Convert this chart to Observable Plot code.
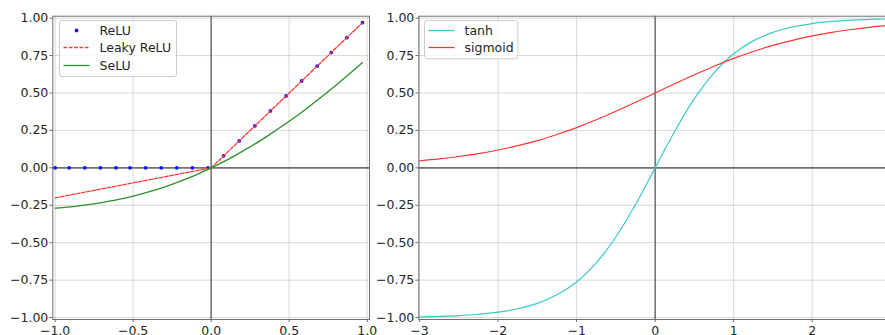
<!DOCTYPE html>
<html>
<head>
<meta charset="utf-8">
<script src="https://cdn.jsdelivr.net/npm/d3@7"></script>
<script src="https://cdn.jsdelivr.net/npm/@observablehq/plot@0.6"></script>
<style>
  html, body { margin: 0; padding: 0; overflow: hidden; background: white; }
  #wrap { position: relative; width: 885px; height: 335px; overflow: hidden; font-family: "DejaVu Sans", sans-serif; }
  #left { position: absolute; left: 0; top: 0; width: 380px; }
  #right { position: absolute; left: 370px; top: 0; width: 531px; }
  #legend { position: absolute; left: 0; top: 0; pointer-events: none; }
</style>
</head>
<body>
<div id="wrap">
  <div id="left"></div>
  <div id="right"></div>
  <svg id="legend" width="885" height="335"></svg>
</div>
<script>
// ---------- data ----------
const leftX = [-1, -0.9, -0.8, -0.7, -0.6, -0.5, -0.4, -0.3, -0.2, -0.1, 0, 0.1, 0.2, 0.3, 0.4, 0.5, 0.6, 0.7, 0.8, 0.9, 0.97];
const leakyY = [-0.2, -0.18, -0.16, -0.14, -0.12, -0.1, -0.08, -0.06, -0.04, -0.02, 0, 0.1, 0.2, 0.3, 0.4, 0.5, 0.6, 0.7, 0.8, 0.9, 0.97];
const seluY = [-0.269, -0.260, -0.248, -0.232, -0.213, -0.189, -0.161, -0.128, -0.090, -0.048, 0, 0.052, 0.110, 0.172, 0.240, 0.311, 0.387, 0.468, 0.552, 0.640, 0.703];
const reluX = [-1, -0.91, -0.81, -0.71, -0.61, -0.52, -0.42, -0.32, -0.22, -0.12, -0.02, 0.08, 0.18, 0.28, 0.38, 0.48, 0.58, 0.68, 0.77, 0.87, 0.97];
const reluY = [0, 0, 0, 0, 0, 0, 0, 0, 0, 0, 0, 0.08, 0.18, 0.28, 0.38, 0.48, 0.58, 0.68, 0.77, 0.87, 0.97];

const rightX = [-3, -2.75, -2.5, -2.25, -2, -1.75, -1.5, -1.25, -1, -0.75, -0.5, -0.25, 0, 0.25, 0.5, 0.75, 1, 1.25, 1.5, 1.75, 2, 2.25, 2.5, 2.75, 3];
const tanhY = [-0.995, -0.992, -0.987, -0.978, -0.964, -0.941, -0.905, -0.848, -0.762, -0.635, -0.462, -0.245, 0, 0.245, 0.462, 0.635, 0.762, 0.848, 0.905, 0.941, 0.964, 0.978, 0.987, 0.992, 0.995];
const sigmoidY = [0.047, 0.060, 0.076, 0.095, 0.119, 0.148, 0.182, 0.223, 0.269, 0.321, 0.378, 0.438, 0.5, 0.562, 0.622, 0.679, 0.731, 0.777, 0.818, 0.852, 0.881, 0.905, 0.924, 0.940, 0.953];

const leftSeries = ["ReLU", "Leaky ReLU", "SeLU"];
const rightSeries = ["tanh", "sigmoid"];

const leftXTicks = [-1, -0.5, 0, 0.5, 1];
const leftXTickLabels = ["−1.0", "−0.5", "0.0", "0.5", "1.0"];
const rightXTicks = [-3, -2, -1, 0, 1, 2];
const rightXTickLabels = ["−3", "−2", "−1", "0", "1", "2"];
const yTicks = [-1, -0.75, -0.5, -0.25, 0, 0.25, 0.5, 0.75, 1];
const yTickLabels = ["−1.00", "−0.75", "−0.50", "−0.25", "0.00", "0.25", "0.50", "0.75", "1.00"];

// ---------- styles ----------
const C = {
  relu: "#1414ff", leaky: "#ff3a3a", selu: "#2a922a",
  tanh: "#3cc8c8", sigmoid: "#ff3535",
  grid: "#b0b0b0", zero: "#555555", frame: "#707070", text: "#262626"
};
const FONT = "DejaVu Sans, sans-serif";
const plotStyle = { background: "transparent", maxWidth: "none", fontFamily: FONT, fontSize: "12.5px", color: C.text, overflow: "visible" };
const yDomain = [-1.013, 1.013];

const leftData = leftX.map((x, i) => ({ x, leaky: leakyY[i], selu: seluY[i] }));
const reluData = reluX.map((x, i) => ({ x, y: reluY[i] }));
const rightData = rightX.map((x, i) => ({ x, tanh: tanhY[i], sigmoid: sigmoidY[i] }));

const lab = (ticks, labels) => d => labels[ticks.indexOf(d)];

const left = Plot.plot({
  width: 380, height: 344,
  marginLeft: 52.3, marginRight: 11, marginTop: 15.7, marginBottom: 25,
  style: plotStyle,
  x: { domain: [-1.015, 1.015] },
  y: { domain: yDomain },
  marks: [
    Plot.gridX(leftXTicks, { stroke: C.grid, strokeOpacity: 0.55, strokeWidth: 0.9 }),
    Plot.gridY(yTicks, { stroke: C.grid, strokeOpacity: 0.55, strokeWidth: 0.9 }),
    Plot.ruleY([0], { stroke: C.zero, strokeWidth: 1.8, strokeOpacity: 0.8 }),
    Plot.ruleX([0], { stroke: C.zero, strokeWidth: 1.2 }),
    Plot.dot(reluData, { x: "x", y: "y", r: 1.9, fill: C.relu, stroke: "none" }),
    Plot.line(leftData, { x: "x", y: "leaky", stroke: C.leaky, strokeWidth: 1.3, strokeDasharray: "3.7,1.6" }),
    Plot.line(leftData, { x: "x", y: "selu", stroke: C.selu, strokeWidth: 1.3, curve: "catmull-rom" }),
    Plot.frame({ stroke: C.frame, strokeWidth: 1 }),
    Plot.axisX(leftXTicks, { tickFormat: lab(leftXTicks, leftXTickLabels), tickSize: 3, tickPadding: 3.5, stroke: C.frame, fill: C.text }),
    Plot.axisY(yTicks, { tickFormat: lab(yTicks, yTickLabels), tickSize: 3, tickPadding: 1.5, stroke: C.frame, fill: C.text })
  ]
});
document.getElementById("left").appendChild(left);

const right = Plot.plot({
  width: 531, height: 344,
  marginLeft: 48.3, marginRight: 10, marginTop: 15.7, marginBottom: 25,
  style: plotStyle,
  x: { domain: [-3.01, 3.01] },
  y: { domain: yDomain },
  marks: [
    Plot.gridX(rightXTicks, { stroke: C.grid, strokeOpacity: 0.55, strokeWidth: 0.9 }),
    Plot.gridY(yTicks, { stroke: C.grid, strokeOpacity: 0.55, strokeWidth: 0.9 }),
    Plot.ruleY([0], { stroke: C.zero, strokeWidth: 1.8, strokeOpacity: 0.8 }),
    Plot.ruleX([0], { stroke: C.zero, strokeWidth: 1.2 }),
    Plot.line(rightData, { x: "x", y: "tanh", stroke: C.tanh, strokeWidth: 1.2, curve: "catmull-rom" }),
    Plot.line(rightData, { x: "x", y: "sigmoid", stroke: C.sigmoid, strokeWidth: 1.2, curve: "catmull-rom" }),
    Plot.frame({ stroke: C.frame, strokeWidth: 1 }),
    Plot.axisX(rightXTicks, { tickFormat: lab(rightXTicks, rightXTickLabels), tickSize: 3, tickPadding: 3.5, stroke: C.frame, fill: C.text }),
    Plot.axisY(yTicks, { tickFormat: lab(yTicks, yTickLabels), tickSize: 3, tickPadding: 1.5, stroke: C.frame, fill: C.text })
  ]
});
document.getElementById("right").appendChild(right);

// ---------- legends ----------
const lg = d3.select("#legend");
function legend(box, items) {
  const g = lg.append("g");
  g.append("rect").attr("x", box.x).attr("y", box.y).attr("width", box.w).attr("height", box.h)
    .attr("rx", 2.5).attr("fill", "white").attr("fill-opacity", 0.8)
    .attr("stroke", "#cccccc").attr("stroke-width", 1);
  items.forEach((it, i) => {
    const y = Math.round(box.y + 9.3 + i * 17.5) + 0.5;
    if (it.kind === "dot") {
      g.append("circle").attr("cx", box.x + 17).attr("cy", y).attr("r", 1.9).attr("fill", it.color);
    } else {
      const ln = g.append("line").attr("x1", box.x + 4).attr("x2", box.x + 30).attr("y1", y).attr("y2", y)
        .attr("stroke", it.color).attr("stroke-width", 1.3);
      if (it.dash) ln.attr("stroke-dasharray", it.dash);
    }
    g.append("text").attr("x", box.x + 40).attr("y", y).attr("dy", "0.36em")
      .attr("font-family", FONT).attr("font-size", 12.5).attr("fill", C.text).text(it.label);
  });
}
legend({ x: 59.5, y: 20.5, w: 117, h: 56 }, [
  { label: leftSeries[0], color: C.relu, kind: "dot" },
  { label: leftSeries[1], color: C.leaky, dash: "3.7,1.6" },
  { label: leftSeries[2], color: C.selu }
]);
legend({ x: 424.5, y: 20.5, w: 93.4, h: 38.3 }, [
  { label: rightSeries[0], color: C.tanh },
  { label: rightSeries[1], color: C.sigmoid }
]);
</script>
</body>
</html>
